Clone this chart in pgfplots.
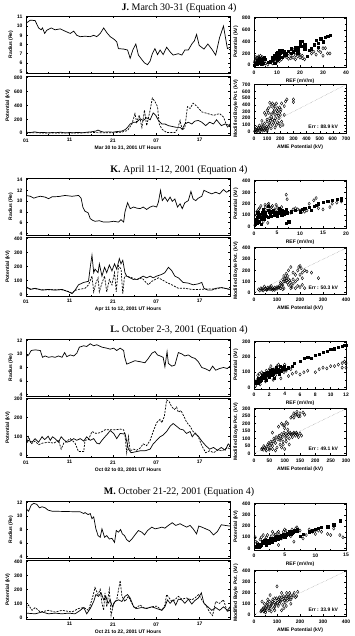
\documentclass[border=0pt]{standalone}
\usepackage{fontspec}
\setmainfont{Liberation Serif}
\setsansfont{Liberation Sans}
\usepackage{pgfplots}
\pgfplotsset{compat=1.18}
\newcommand{\sm}{\fontsize{5}{6}\selectfont\sffamily\bfseries}
\pgfplotsset{
  base/.style={scale only axis, axis line style={line width=0.55pt}, tick style={line width=0.4pt, black},
    major tick length=2pt, minor tick length=1pt, tick label style={font=\sm}, label style={font=\sm},
    /pgf/number format/assume math mode=true, /pgf/number format/1000 sep={},
    xlabel style={yshift=2.5pt}, ylabel style={yshift=-3pt}},
  lft/.style={base, width=204pt, xmin=1, xmax=48, xtick={1,11,21,31,41}, minor x tick num=1},
  rad/.style={lft, height=57pt, xticklabels={}, ylabel={Radius (Re)}, minor y tick num=1},
  pot/.style={lft, height=59pt, xticklabels={01,11,21,07,17}, ylabel={Potential (kV)}, minor y tick num=1},
  sc/.style={base, width=92pt, minor tick num=1},
  sol/.style={black, line width=0.7pt},
  dsh/.style={black, line width=0.7pt, dash pattern=on 2pt off 1.2pt},
  dia/.style={only marks, mark=diamond, mark size=1.6pt, mark options={line width=0.4pt, draw=black, fill=white, solid}},
  sq/.style={only marks, mark=square*, mark size=1.1pt, mark options={black, solid}},
}
\begin{document}
\begin{tikzpicture}
\useasboundingbox (0,0) rectangle (354pt,636pt);
% ================= J =================
\node[font=\fontsize{10}{12}\selectfont] at (179pt,628pt) {\textbf{J.} March 30-31 (Equation 4)};
\begin{axis}[rad, at={(26pt,620pt)}, anchor=north west, ymin=4.9, ymax=11.1, ytick={5,6,7,8,9,10,11}]
\addplot[sol] coordinates {(1.0,10.3)(2.0,10.65)(3.1,10.6)(3.9,9.8)(4.5,9.6)(4.8,9.8)(5.3,9.2)(5.8,9.55)(6.8,9.8)(7.7,9.6)(8.9,9.7)(10.0,9.45)(11.2,9.2)(12.0,9.45)(12.7,9.0)(13.5,8.85)(14.6,8.9)(15.8,8.85)(16.6,9.0)(17.3,8.85)(18.1,9.2)(18.9,9.8)(19.6,9.3)(20.4,8.85)(21.2,8.6)(21.9,8.3)(22.3,7.55)(23.5,7.5)(24.4,7.4)(25.0,6.5)(25.6,7.4)(26.3,8.05)(26.9,6.85)(27.7,6.35)(28.3,6.0)(29.0,5.8)(29.6,6.2)(30.1,7.0)(30.7,7.55)(31.3,6.9)(31.9,7.4)(32.6,6.9)(33.4,7.7)(34.2,7.2)(34.9,6.85)(36.1,7.0)(36.9,6.85)(37.6,7.4)(38.4,7.4)(39.2,8.05)(39.8,8.4)(40.3,9.1)(40.9,7.9)(42.0,7.5)(42.9,8.05)(43.8,7.5)(44.7,6.85)(45.6,8.75)(46.5,10.0)(47.4,7.55)(48.0,7.7)};
\end{axis}
\begin{axis}[pot, at={(26pt,560pt)}, anchor=north west, ymin=-25, ymax=820, ytick={0,200,400,600,800}, xlabel={Mar 30 to 31, 2001 UT Hours}]
\addplot[dsh] coordinates {(1,5)(3,8)(5,3)(7,5)(9,3)(11,5)(13,3)(15,8)(17,10)(19,5)(21,8)(23,15)(24.4,40)(25.4,133)(26.1,280)(26.5,158)(27.1,257)(27.7,84)(28.3,330)(28.8,109)(29.6,330)(30.1,504)(30.7,454)(31.3,380)(31.7,133)(32.3,59)(33.4,10)(35.3,10)(35.9,59)(36.5,183)(37.0,44)(37.6,84)(38.2,380)(38.8,355)(39.5,430)(40.3,390)(41.5,306)(42.9,281)(44.2,257)(45.6,281)(46.5,232)(47.4,84)(48,133)};
\addplot[sol] coordinates {(1,15)(2,10)(3,20)(4,8)(5,12)(6,5)(7,10)(8,8)(9,15)(10,5)(11,10)(12,8)(13,12)(14,6)(15,15)(16,20)(17,30)(17.6,45)(18.3,25)(19,15)(20,20)(21,15)(22,25)(23,30)(23.8,50)(24.4,84)(25.0,133)(25.8,158)(26.5,158)(27.3,207)(28.0,183)(28.8,222)(29.6,193)(30.3,291)(30.9,257)(31.5,183)(32.3,133)(33.0,133)(33.8,109)(34.9,94)(35.7,84)(36.5,84)(37.0,59)(37.6,133)(38.4,158)(39.2,133)(39.9,173)(40.7,183)(41.5,158)(42.4,109)(43.3,158)(44.2,133)(44.9,193)(46.0,109)(46.9,133)(48.0,109)};
\end{axis}
\begin{axis}[sc, at={(254pt,619pt)}, anchor=north west, height=50pt, xmin=0, xmax=40, xtick={0,10,20,30,40}, ymin=-30, ymax=820, ytick={0,200,400,600,800}, xlabel={REF (mV/m)}, ylabel={Potential (kV)}]
\addplot[sq] coordinates {(7,60)(8,90)(9,120)(10,80)(10,150)(11,180)(12,220)(11,250)(12,130)(9,40)(13,170)(14,200)(15,240)(16,280)(17,230)(18,300)(19,260)(20,380)(21,410)(20,320)(19,200)(22,350)(25,280)(26,350)(27,420)(28,380)(29,450)(30,400)(31,470)(32,490)(33,510)(28,300)(24,260)(3,80)(4,120)(2,60)(5,100)(6,50)(1,30)(3,20)(0.5,40)(1.5,90)(2.5,40)(3.5,60)(4.5,130)(0.2,5)(1.2,15)(2.2,110)(3.2,100)(4,40)(8.5,110)(9.5,200)(10.5,100)(11.5,200)(12,260)(9,170)(10,220)(8,140)(11,120)(13,230)(14,180)(16,210)(18,250)(20,400)(21,330)(19,310)(22,280)(23,150)};
\addplot[dia] coordinates {(0.5,10)(1,40)(1.5,70)(2,30)(2.5,100)(3,60)(3.5,140)(4,90)(4.5,50)(1,120)(2,150)(0.5,80)(3,20)(5,30)(6,10)(8,30)(10,60)(14,140)(15,110)(16,160)(17,130)(18,100)(19,150)(20,180)(21,120)(22,100)(15,200)(17,260)(25,200)(26,230)(27,180)(28,250)(29,220)(30,290)(31,290)(32,200)(30,160)(33,200)(0.2,50)(1.2,90)(2.2,60)(3.2,120)(4.2,20)(1.8,130)(2.8,160)(3.8,70)(4.8,110)(0.8,140)(9,90)(10,120)(11,70)(12,100)(13,150)(16,120)(18,170)(20,130)(21,160)};
\end{axis}
\begin{axis}[sc, at={(254pt,552pt)}, anchor=north west, height=49pt, xmin=0, xmax=700, xtick={0,100,...,700}, ymin=-20, ymax=710, ytick={0,100,...,700}, xlabel={AMIE Potential (kV)}, ylabel={Modified Boyle Pot. (kV)}]
\addplot[densely dotted, gray, line width=0.4pt] coordinates {(0,0)(700,700)};
\addplot[dia] coordinates {(10,20)(20,5)(30,40)(40,10)(50,60)(60,30)(70,80)(80,20)(90,50)(100,10)(110,70)(20,60)(40,90)(60,100)(80,120)(100,150)(120,200)(90,250)(110,280)(130,260)(150,300)(170,320)(160,250)(140,180)(180,350)(200,300)(170,420)(150,400)(130,380)(190,200)(210,150)(220,100)(200,80)(160,60)(130,50)(100,180)(120,130)(140,100)(180,140)(240,450)(250,480)(300,480)(300,440)(210,420)(230,380)(80,280)(60,160)(150,350)(120,430)(200,250)(5,5)(15,30)(25,15)(35,55)(45,25)(55,45)(65,15)(75,55)(85,35)(95,75)(105,40)(115,100)(125,160)(135,220)(145,280)(155,160)(165,200)(175,270)(185,240)(195,360)(205,330)(100,320)(110,350)(140,420)(160,380)(180,300)(230,250)(150,130)(170,100)(190,120)};
\node[font=\sm, anchor=east] at (rel axis cs:0.95,0.13) {Err : 88.9 kV};
\end{axis}
% ================= K =================
\node[font=\fontsize{10}{12}\selectfont] at (179pt,466pt) {\textbf{K.} April 11-12, 2001 (Equation 4)};
\begin{axis}[rad, at={(26pt,458pt)}, anchor=north west, ymin=3.7, ymax=14.3, ytick={4,6,8,10,12,14}]
\addplot[sol] coordinates {(1.0,11.05)(2.0,10.9)(2.8,10.55)(3.5,10.75)(4.3,10.9)(5.4,10.75)(6.2,10.45)(7.0,10.8)(8.5,10.85)(10.0,11.05)(11.6,10.9)(13.1,11.05)(13.7,10.55)(14.1,8.9)(14.6,8.1)(15.3,7.85)(15.8,6.75)(16.3,6.45)(16.9,6.25)(17.9,6.35)(18.9,6.1)(20.0,6.1)(21.2,6.25)(22.3,6.1)(22.9,6.55)(23.5,6.1)(23.8,8.0)(24.4,9.7)(25.0,8.6)(25.8,8.9)(26.5,8.7)(27.3,8.6)(28.0,8.9)(28.8,8.45)(29.6,8.9)(30.3,9.1)(31.1,8.9)(31.5,9.8)(32.0,12.0)(32.4,10.1)(33.0,10.75)(33.6,9.95)(34.2,10.75)(34.7,9.95)(35.3,10.4)(35.9,8.9)(36.5,9.5)(37.0,8.6)(37.6,9.7)(38.4,10.1)(39.0,11.8)(39.5,10.4)(40.1,10.1)(40.7,10.55)(41.5,10.9)(42.0,12.0)(42.9,11.65)(43.8,11.35)(44.7,11.65)(45.6,11.35)(46.5,12.15)(47.2,11.65)(48.0,12.0)};
\end{axis}
\begin{axis}[pot, at={(26pt,399pt)}, anchor=north west, ymin=-12, ymax=410, ytick={0,100,200,300,400}, xlabel={Apr 11 to 12, 2001 UT Hours}]
\addplot[dsh] coordinates {(1.0,50)(2.0,38)(3.1,40)(4.7,33)(6.2,32)(7.7,33)(9.3,32)(10.8,20)(11.6,8)(12.3,28)(13.1,35)(14.6,43)(15.4,68)(16.2,130)(16.6,18)(17.1,80)(17.6,118)(17.9,18)(18.5,80)(19.1,130)(19.6,18)(20.2,105)(20.8,68)(21.4,155)(21.8,18)(22.3,205)(22.9,180)(23.3,5)(23.7,130)(24.2,130)(25.4,118)(26.5,105)(27.7,118)(28.4,93)(29.2,68)(30.0,93)(30.7,105)(31.5,118)(32.3,105)(33.4,85)(34.6,68)(36.1,43)(37.6,43)(39.2,35)(40.7,35)(42.9,38)(44.7,38)(46.0,48)(48.0,35)};
\addplot[sol] coordinates {(1.0,55)(2.0,35)(3.1,43)(4.7,30)(6.2,35)(7.7,30)(9.3,35)(10.8,18)(11.6,5)(12.3,30)(13.1,68)(14.3,85)(15.4,93)(15.8,193)(16.2,280)(16.6,155)(16.9,180)(17.6,155)(17.9,218)(18.5,130)(19.1,193)(19.6,155)(20.2,210)(20.8,168)(21.4,218)(21.9,180)(22.5,255)(22.9,218)(23.3,243)(23.8,155)(24.2,130)(25.0,118)(25.8,105)(26.5,105)(27.3,118)(28.0,130)(28.8,118)(29.6,130)(30.3,118)(31.1,130)(32.3,143)(33.0,155)(33.8,193)(34.6,168)(35.3,130)(36.1,118)(37.2,85)(38.4,80)(39.5,68)(40.7,75)(41.5,85)(42.0,43)(42.9,30)(43.8,30)(44.7,43)(46.0,48)(46.9,43)(48.0,35)};
\end{axis}
\begin{axis}[sc, at={(254pt,456pt)}, anchor=north west, height=48pt, xmin=0, xmax=20, xtick={0,5,10,15,20}, ymin=-15, ymax=410, ytick={0,100,200,300,400}, xlabel={REF (mV/m)}, ylabel={Potential (kV)}]
\addplot[sq] coordinates {(0.3,20)(0.5,50)(0.8,80)(1,40)(1.2,100)(1.5,60)(2,90)(2.5,120)(3,80)(3.5,110)(4,130)(4.5,100)(5,120)(5.5,140)(6,100)(6.5,130)(7,150)(7.5,40)(7,30)(8,130)(9,140)(10,130)(10.5,150)(11,160)(12,170)(12.5,140)(13,180)(13.5,190)(14,200)(15,210)(16,220)(17,230)(18,240)(19,250)(19,230)(0.2,60)(0.6,30)(1,110)(1.4,80)(1.8,120)(2.2,60)(2.6,90)(3,140)(3.4,130)(3.8,90)(4.2,140)(4.6,120)(5,90)(5.4,160)(5.8,120)(6.2,140)(6.6,110)(7.2,120)(7.6,40)(2,150)(3,180)(1.5,20)(0.8,120)};
\addplot[dia] coordinates {(0.2,10)(0.5,100)(1,150)(1.5,180)(2,130)(2.5,170)(3,190)(3.5,160)(4,180)(4.5,150)(5,170)(5.5,120)(6,170)(6.5,110)(7,280)(7.2,240)(8,120)(9,160)(10,140)(11,130)(12,200)(13,230)(13.5,250)(14,160)(15,150)(16.5,170)(17,200)(18,210)(19,220)(0.8,60)(2,40)(3,30)(0.6,130)(1.2,160)(1.8,100)(2.4,190)(2.8,140)(3.2,200)(3.8,170)(4.2,120)(4.8,190)(5.2,140)(5.8,150)(6.2,130)(1.4,90)(0.4,40)(2.2,70)(9.5,150)(10.5,130)(11.5,140)(8.5,150)};
\end{axis}
\begin{axis}[sc, at={(254pt,389pt)}, anchor=north west, height=47pt, xmin=0, xmax=400, xtick={0,100,...,400}, ymin=-12, ymax=410, ytick={0,100,...,400}, xlabel={AMIE Potential (kV)}, ylabel={Modified Boyle Pot. (kV)}]
\addplot[densely dotted, gray, line width=0.4pt] coordinates {(0,0)(400,400)};
\addplot[dia] coordinates {(20,30)(30,40)(40,20)(50,35)(60,45)(70,30)(80,40)(90,25)(100,50)(110,60)(120,80)(125,120)(130,150)(135,100)(140,130)(145,90)(150,70)(155,110)(160,60)(165,50)(170,80)(180,40)(190,60)(200,50)(210,70)(220,40)(140,170)(150,200)(160,230)(170,180)(180,160)(190,200)(195,230)(200,240)(205,220)(210,180)(230,190)(250,180)(280,130)(45,55)(75,60)(115,40)(125,30)(35,25)(55,30)(85,35)(105,45)(25,20)(35,35)(45,30)(55,25)(65,40)(75,35)(85,30)(95,40)(60,30)(70,50)(80,25)(90,45)(100,35)(110,45)(120,60)(130,100)(135,130)(140,110)(145,150)(150,120)(125,70)(115,90)(160,90)(170,120)(180,100)(190,120)(200,160)(210,130)(220,200)(130,40)(160,40)};
\node[font=\sm, anchor=east] at (rel axis cs:0.95,0.13) {Err : 50.3 kV};
\end{axis}
% ================= L =================
\node[font=\fontsize{10}{12}\selectfont] at (179pt,306pt) {\textbf{L.} October 2-3, 2001 (Equation 4)};
\begin{axis}[rad, at={(26pt,297pt)}, anchor=north west, ymin=3.8, ymax=12.2, ytick={4,6,8,10,12}]
\addplot[sol] coordinates {(1.0,9.6)(1.6,9.85)(2.2,10.5)(3.1,10.6)(4.3,10.5)(4.8,9.5)(5.4,9.7)(6.2,9.5)(7.0,9.6)(7.7,9.5)(8.5,9.7)(9.3,9.5)(9.9,10.2)(10.4,9.6)(11.2,9.85)(12.0,9.7)(12.7,10.1)(13.3,11.0)(14.3,11.2)(15.0,11.1)(15.8,11.5)(16.6,11.2)(17.3,11.35)(18.5,11.0)(19.6,10.85)(20.4,10.7)(21.2,10.85)(21.9,10.5)(22.7,10.85)(23.5,10.5)(23.7,9.6)(24.2,8.5)(25.0,8.7)(26.1,9.0)(27.3,8.85)(28.4,8.7)(29.2,9.35)(30.0,10.1)(30.7,10.35)(31.3,9.85)(31.9,9.7)(32.6,9.5)(33.0,8.1)(33.5,10.35)(33.8,8.6)(34.6,8.2)(35.3,8.35)(36.1,10.2)(36.9,10.0)(37.6,9.7)(38.4,9.85)(39.2,9.5)(39.9,9.35)(40.7,8.85)(41.5,8.0)(42.4,7.8)(43.3,7.5)(44.0,8.2)(44.7,7.6)(45.6,7.85)(46.5,8.0)(47.4,7.85)(48.0,8.2)};
\end{axis}
\begin{axis}[pot, at={(26pt,238pt)}, anchor=north west, ymin=-10, ymax=305, ytick={0,100,200,300}, xlabel={Oct 02 to 03, 2001 UT Hours}]
\addplot[dsh] coordinates {(1.0,56)(1.6,98)(2.2,60)(3.1,75)(3.9,56)(4.8,64)(6.2,69)(7.4,64)(8.5,79)(9.1,32)(9.7,64)(10.4,75)(11.2,88)(12.3,64)(13.1,19)(14.3,19)(14.6,79)(15.4,83)(16.2,126)(17.1,116)(18.1,120)(19.2,135)(20.4,135)(21.5,135)(22.7,139)(23.5,135)(23.8,107)(24.2,13)(24.6,98)(25.0,23)(25.8,32)(26.5,26)(27.3,38)(28.0,60)(28.8,51)(29.6,79)(30.3,126)(31.1,173)(31.9,191)(32.3,173)(32.9,210)(33.4,295)(34.0,285)(34.6,257)(35.2,244)(35.7,257)(36.1,229)(36.7,238)(37.5,201)(38.0,176)(38.8,154)(39.5,126)(40.1,116)(40.7,98)(41.5,51)(42.4,13)(43.3,23)(44.2,13)(45.1,26)(46.2,23)(47.4,41)(48.0,32)};
\addplot[sol] coordinates {(1.0,60)(1.6,79)(2.4,69)(3.1,88)(3.9,69)(4.7,98)(5.3,83)(6.1,101)(6.6,79)(7.1,98)(7.7,88)(8.5,69)(9.1,98)(9.7,83)(10.4,69)(11.2,75)(12.0,88)(12.7,79)(13.5,88)(14.3,75)(15.0,98)(15.8,79)(16.6,88)(17.3,64)(17.9,60)(18.5,79)(19.2,98)(19.9,116)(20.4,131)(21.2,116)(21.9,88)(22.7,116)(23.5,113)(23.8,116)(24.6,32)(25.2,13)(26.1,17)(27.3,23)(28.4,23)(29.6,32)(30.3,60)(31.1,79)(31.9,98)(32.6,107)(33.4,126)(34.2,154)(34.9,169)(35.7,154)(36.5,139)(37.2,135)(38.0,116)(38.8,126)(39.3,98)(39.9,116)(40.7,101)(41.5,75)(42.4,51)(43.3,32)(44.2,41)(45.1,26)(46.0,41)(46.9,26)(47.6,60)(48.0,51)};
\end{axis}
\begin{axis}[sc, at={(254pt,295pt)}, anchor=north west, height=48pt, xmin=0, xmax=12, xtick={0,2,...,12}, ymin=-10, ymax=305, ytick={0,100,200,300}, xlabel={REF (mV/m)}, ylabel={Potential (kV)}]
\addplot[sq] coordinates {(0.2,30)(0.5,50)(0.8,40)(1,70)(1.2,60)(1.5,80)(1.8,90)(2,70)(2.2,100)(2.5,90)(2.8,110)(3,100)(3.2,120)(3.5,110)(3.8,130)(4,120)(4.5,130)(5,140)(5.2,160)(6,170)(6.5,190)(7,200)(7.5,190)(8,210)(8.5,220)(9,230)(9.5,240)(10,250)(10.5,255)(11,265)(11.5,270)(11.8,280)(12,275)(0.3,40)(0.6,60)(0.9,50)(1.1,80)(1.4,70)(1.7,100)(1.9,80)(2.1,110)(2.4,120)(2.7,100)(2.9,130)(3.1,110)(3.4,140)(3.7,120)(3.9,140)(1.3,90)(2.3,80)(3.3,90)(0.5,30)(1.6,50)(2.6,60)};
\addplot[dia] coordinates {(0.2,10)(0.5,80)(0.8,20)(1,100)(1.5,40)(2,120)(2.5,50)(3,140)(3.5,60)(1.2,90)(2.8,80)(4,150)(4.5,75)(5,90)(5.5,100)(6,85)(6.5,100)(7,110)(8,100)(8.5,120)(9,130)(9.5,125)(10,140)(11,150)(11.5,130)(12,160)(11.8,170)(0.4,50)(0.7,90)(1.1,60)(1.6,110)(2.2,140)(2.6,120)(3.2,150)(3.6,130)(3.9,100)(0.3,30)(1.8,70)(4.2,110)(4.8,120)(10.5,140)(11.5,160)(12,130)};
\end{axis}
\begin{axis}[sc, at={(254pt,228pt)}, anchor=north west, height=47pt, xmin=0, xmax=300, xtick={0,50,...,300}, ymin=-10, ymax=305, ytick={0,50,...,300}, minor tick num=0, xlabel={AMIE Potential (kV)}, ylabel={Modified Boyle Pot. (kV)}]
\addplot[densely dotted, gray, line width=0.4pt] coordinates {(0,0)(300,300)};
\addplot[dia] coordinates {(25,30)(30,25)(35,40)(40,20)(45,60)(50,35)(55,80)(60,50)(65,100)(70,70)(75,40)(80,110)(85,90)(90,130)(95,60)(100,120)(105,80)(110,140)(115,100)(120,130)(125,110)(130,140)(135,120)(140,130)(145,110)(150,135)(155,120)(80,180)(90,200)(95,190)(100,170)(105,210)(110,160)(120,240)(125,250)(130,270)(135,260)(140,280)(145,250)(150,270)(160,275)(165,260)(90,40)(100,30)(70,20)(60,140)(28,35)(32,50)(38,30)(42,45)(48,70)(52,55)(58,65)(62,80)(68,90)(72,110)(78,95)(82,120)(88,100)(92,110)(98,140)(102,130)(108,120)(112,130)(118,140)(122,125)(128,135)(132,130)(138,140)(142,125)(85,60)(95,80)(105,100)(115,60)(60,30)(50,25)(100,190)(110,200)(130,240)(150,250)(140,260)};
\node[font=\sm, anchor=east] at (rel axis cs:0.95,0.13) {Err : 49.1 kV};
\end{axis}
% ================= M =================
\node[font=\fontsize{10}{12}\selectfont] at (179pt,144pt) {\textbf{M.} October 21-22, 2001 (Equation 4)};
\begin{axis}[rad, at={(26pt,135pt)}, anchor=north west, ymin=3.8, ymax=12.2, ytick={4,6,8,10,12}]
\addplot[sol] coordinates {(1.0,11.1)(1.6,10.7)(2.2,11.6)(2.8,11.85)(3.5,11.7)(4.1,11.2)(4.7,11.35)(5.4,11.2)(6.1,10.85)(7.0,10.7)(13.5,10.6)(14.3,10.35)(14.6,10.5)(15.3,10.2)(15.8,10.35)(16.2,9.6)(16.6,9.85)(17.1,8.1)(17.6,7.1)(18.1,6.85)(18.5,8.1)(19.1,6.85)(19.6,7.1)(20.2,6.6)(20.8,6.7)(21.4,6.1)(21.8,7.85)(22.3,7.6)(22.8,8.0)(23.2,7.35)(23.7,7.1)(24.2,6.5)(24.8,6.2)(25.4,6.6)(26.1,7.2)(26.9,7.85)(27.7,7.6)(28.3,7.2)(29.0,7.85)(30.0,8.35)(30.7,8.1)(31.5,8.2)(32.3,8.35)(33.0,8.2)(33.8,8.6)(34.7,9.0)(35.5,8.6)(36.5,8.85)(37.2,8.6)(38.0,8.35)(38.8,8.6)(39.5,8.1)(40.3,7.35)(40.8,8.5)(41.5,8.35)(42.4,8.1)(43.3,7.85)(44.2,7.2)(45.1,7.7)(46.0,8.7)(46.9,8.6)(48.0,8.5)};
\end{axis}
\begin{axis}[pot, at={(26pt,76pt)}, anchor=north west, ymin=-12, ymax=410, ytick={0,100,200,300,400}, xtick={11,21,31,41}, xticklabels={11,21,07,17}, xlabel={Oct 21 to 22, 2001 UT Hours}]
\addplot[dsh] coordinates {(1.0,63)(1.6,88)(2.4,50)(3.1,70)(4.3,38)(6.2,50)(7.7,38)(9.3,50)(11.6,38)(13.1,63)(14.3,70)(15.4,50)(16.3,138)(16.9,213)(17.6,163)(18.1,200)(18.5,100)(18.9,50)(19.2,175)(19.6,75)(20.2,200)(20.6,13)(21.2,100)(21.9,125)(22.7,263)(23.1,150)(23.8,113)(24.6,150)(25.4,100)(26.1,63)(27.3,88)(28.4,63)(30.0,75)(31.1,80)(32.3,50)(33.0,88)(33.4,163)(34.0,138)(34.6,113)(35.3,125)(36.1,150)(36.9,130)(38.0,138)(39.2,125)(39.9,138)(40.8,163)(41.5,125)(42.4,88)(43.3,38)(44.0,13)(44.7,113)(45.6,100)(46.5,125)(47.4,38)(48.0,63)};
\addplot[sol] coordinates {(1.0,30)(3.1,25)(4.7,38)(6.2,25)(7.7,30)(9.3,25)(10.8,30)(12.3,25)(13.5,50)(14.3,70)(15.0,25)(15.8,63)(16.6,113)(17.1,163)(17.7,150)(18.3,175)(18.9,125)(19.4,150)(19.9,100)(20.4,125)(20.9,75)(21.5,113)(22.3,125)(23.1,113)(23.8,150)(24.4,163)(25.0,138)(25.8,75)(26.5,63)(27.7,70)(28.8,63)(30.0,75)(31.1,63)(32.3,50)(33.0,75)(33.6,125)(34.2,100)(34.9,125)(35.5,88)(36.1,130)(36.9,125)(37.6,100)(38.4,130)(39.2,95)(39.9,120)(40.7,138)(41.4,175)(42.0,100)(42.9,75)(43.8,50)(44.7,70)(45.6,50)(46.5,75)(47.4,50)(48.0,75)};
\end{axis}
\begin{axis}[sc, at={(254pt,133pt)}, anchor=north west, height=47pt, xmin=0, xmax=15, xtick={0,5,10,15}, ymin=-15, ymax=410, ytick={0,100,200,300,400}, xlabel={REF (mV/m)}, ylabel={Potential (kV)}]
\addplot[sq] coordinates {(0.2,20)(0.5,30)(1,40)(1.5,50)(2,60)(2.5,75)(3,90)(3.5,100)(4,110)(4.5,120)(5,130)(5.5,140)(6,150)(6.5,160)(7,170)(0.8,10)(2,30)(3,60)(4,80)(5,100)(7.5,110)(8,130)(9,150)(9.5,160)(10,170)(10.5,180)(11,190)(12,195)(13,210)(14,250)(13,220)(0.4,15)(0.6,40)(1.2,30)(1.4,60)(1.8,45)(2.2,70)(2.4,50)(2.8,80)(3.2,85)(3.4,70)(3.8,100)(4.2,95)(4.6,110)(4.8,130)(5.2,120)(5.6,130)(5.8,150)(6.2,140)(6.4,150)(6.8,165)(1,20)(2,40)(3,70)(4,100)(5,110)(6,130)(7,160)(3.6,110)(2.6,90)(1.6,70)};
\addplot[dia] coordinates {(0.2,100)(0.5,50)(1,80)(1.5,120)(2,100)(2.5,60)(3,150)(3.5,120)(4,150)(4.5,90)(5,170)(5.5,130)(6,110)(6.5,60)(7,190)(7.5,160)(8,90)(9,170)(10,130)(10.5,160)(11,150)(12,130)(12.5,120)(13,180)(14,120)(14.5,100)(4,30)(0.3,60)(0.7,40)(1.2,100)(1.8,80)(2.2,120)(2.8,110)(3.2,130)(3.8,140)(4.2,120)(4.8,150)(5.2,160)(5.8,120)(6.2,170)(6.8,180)(7.2,170)(8.5,120)(9.5,150)(10,160)};
\end{axis}
\begin{axis}[sc, at={(254pt,66pt)}, anchor=north west, height=46pt, xmin=0, xmax=400, xtick={0,100,...,400}, ymin=-12, ymax=410, ytick={0,100,...,400}, xlabel={AMIE Potential (kV)}, ylabel={Modified Boyle Pot. (kV)}]
\addplot[densely dotted, gray, line width=0.4pt] coordinates {(0,0)(400,400)};
\addplot[dia] coordinates {(30,30)(40,60)(45,100)(50,20)(55,80)(60,140)(65,40)(70,180)(75,90)(80,120)(85,60)(90,150)(95,100)(100,130)(105,80)(110,160)(115,120)(120,200)(125,90)(130,150)(135,110)(140,170)(145,130)(150,160)(155,200)(160,140)(170,180)(180,160)(190,210)(100,260)(60,90)(120,40)(140,80)(160,100)(50,60)(35,120)(45,40)(70,60)(90,70)(110,100)(32,40)(38,50)(42,30)(48,70)(52,40)(58,110)(62,60)(68,120)(72,80)(78,100)(82,140)(88,110)(92,90)(98,150)(102,110)(108,140)(112,130)(118,160)(122,140)(128,170)(132,130)(138,150)(142,200)(148,170)(152,140)(158,180)(165,160)(175,200)(185,170)(75,30)(90,40)(130,60)};
\node[font=\sm, anchor=east] at (rel axis cs:0.95,0.13) {Err : 33.9 kV};
\end{axis}
\end{tikzpicture}
\end{document}
